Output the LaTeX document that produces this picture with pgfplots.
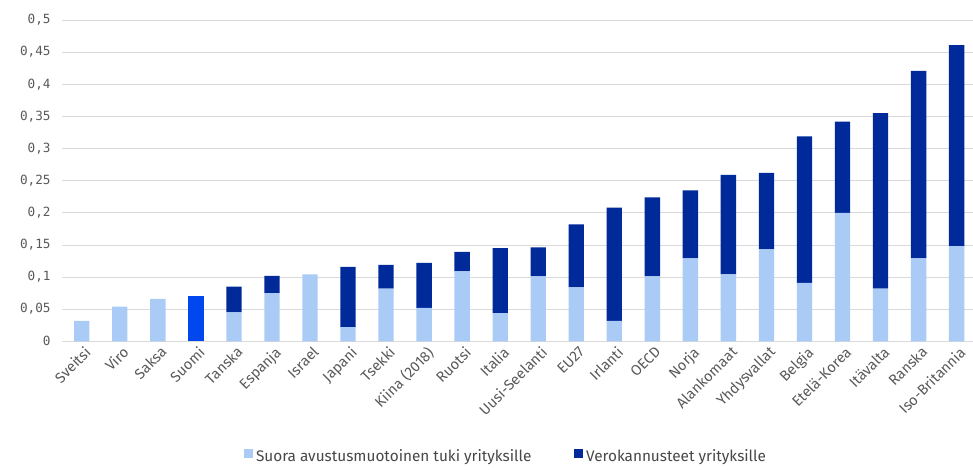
\documentclass[border=0pt]{standalone}
\usepackage{fontspec}
\setmainfont{Fira Sans}
\newfontfamily\tickfont{DejaVu Sans Mono}
\usepackage{pgfplots}
\usepackage{pgfplotstable}
\pgfplotsset{compat=1.18}
\definecolor{lightbar}{HTML}{A9CBF5}
\definecolor{darkbar}{HTML}{00299A}
\definecolor{finbar}{HTML}{0047F0}
\definecolor{gridgray}{HTML}{DADADA}
\definecolor{labelgray}{HTML}{595959}

% suora tuki, verokannusteet, Suomi erikseen
\pgfplotstableread{
x  light  dark   fin
0  0.032  0      0
1  0.054  0      0
2  0.066  0      0
3  0      0      0.071
4  0.045  0.040  0
5  0.075  0.027  0
6  0.104  0      0
7  0.022  0.094  0
8  0.082  0.037  0
9  0.052  0.070  0
10 0.109  0.030  0
11 0.044  0.101  0
12 0.101  0.045  0
13 0.084  0.098  0
14 0.032  0.176  0
15 0.101  0.123  0
16 0.129  0.106  0
17 0.104  0.155  0
18 0.143  0.119  0
19 0.091  0.228  0
20 0.200  0.142  0
21 0.082  0.273  0
22 0.129  0.292  0
23 0.148  0.313  0
}\data

\begin{document}
\begin{tikzpicture}
\begin{axis}[
    ybar stacked,
    scale only axis,
    width=683pt, height=241pt,
    bar width=11.5pt,
    xmin=-0.52, xmax=23.42,
    ymin=0, ymax=0.5,
    ytick={0,0.05,0.1,0.15,0.2,0.25,0.3,0.35,0.4,0.45,0.5},
    yticklabel style={/pgf/number format/fixed, /pgf/number format/precision=2,
        /pgf/number format/use comma, /pgf/number format/assume math mode=true,
        font=\tickfont\fontsize{9.5}{12}\selectfont, text=labelgray, xshift=-5pt},
    xtick={0,...,23},
    xticklabels={Sveitsi,Viro,Saksa,Suomi,Tanska,Espanja,Israel,Japani,Tsekki,
        Kiina (2018),Ruotsi,Italia,Uusi-Seelanti,EU27,Irlanti,OECD,Norja,
        Alankomaat,Yhdysvallat,Belgia,Etelä-Korea,Itävalta,Ranska,Iso-Britannia},
    x tick label style={rotate=45, anchor=north east, inner sep=1pt, yshift=-2pt,
        font=\fontsize{11}{13}\selectfont, text=labelgray},
    ymajorgrids,
    grid style={gridgray, line width=0.6pt},
    axis line style={draw=none},
    major tick style={draw=none},
    legend style={at={(0.488,-0.36)}, anchor=center, draw=none,
        legend columns=2, font=\fontsize{11.5}{13}\selectfont, text=labelgray!80!black,
        /tikz/every even column/.append style={column sep=30pt}},
    legend image code/.code={\fill[#1] (0pt,-1pt) rectangle (7pt,6pt);},
]
\addplot[fill=lightbar, draw=none] table[x=x, y=light] {\data};
\addplot[fill=darkbar, draw=none] table[x=x, y=dark] {\data};
\addplot[fill=finbar, draw=none] table[x=x, y=fin] {\data};
\legend{Suora avustusmuotoinen tuki yrityksille, Verokannusteet yrityksille}
\end{axis}
\path ([yshift=15pt]current axis.north) ([xshift=-46.5pt,yshift=-94.7pt]current axis.south west);
\end{tikzpicture}
\end{document}
